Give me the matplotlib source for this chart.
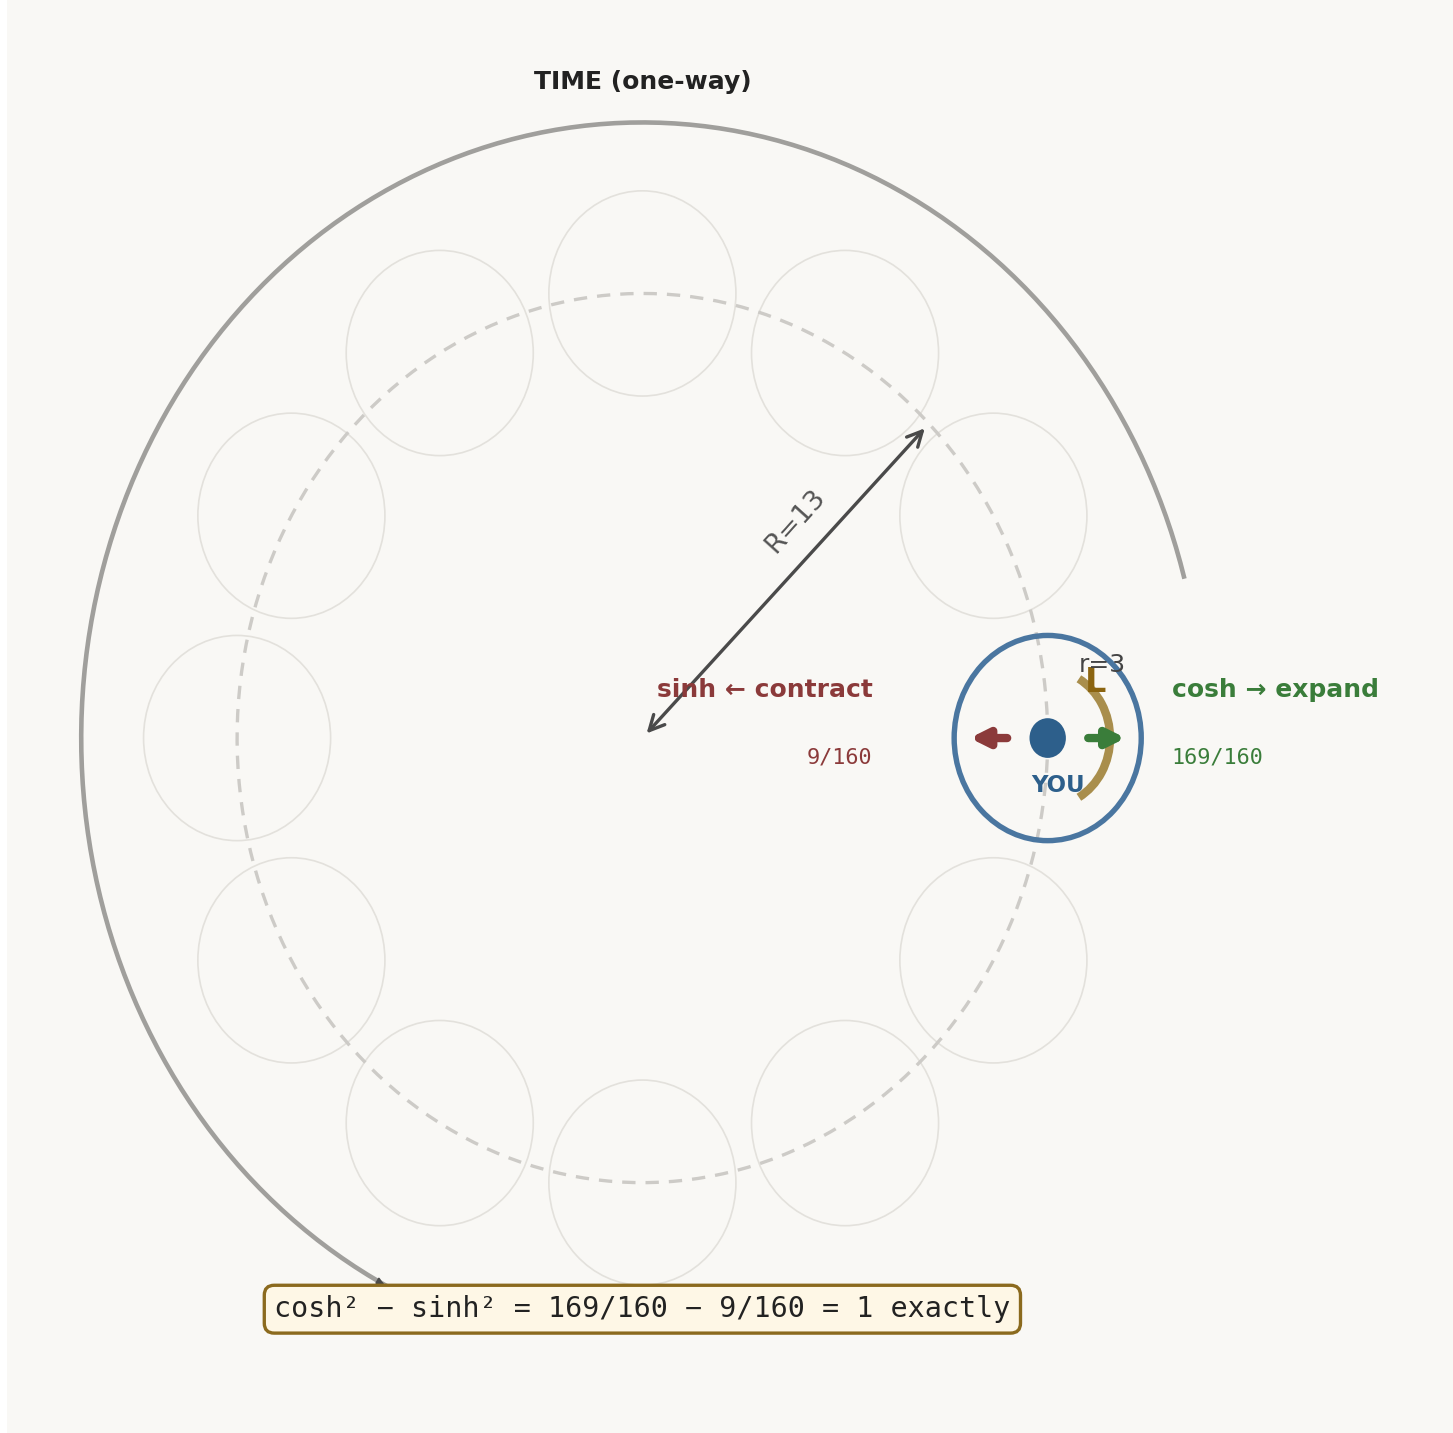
import numpy as np
import matplotlib
matplotlib.use("Agg")
import matplotlib.pyplot as plt
from matplotlib.patches import Circle, Arc, FancyArrowPatch

# geometry of the torus picture
R_big = 13          # major radius
r_small = 3         # tube radius
n_tubes = 12
tube_angles = np.arange(n_tubes) * 360 / n_tubes
time_radius = 18
time_arc = [15, 243]     # degrees, start/end of the one-way time arc

# the two parts of the identity
cosh_sq = "169/160"
sinh_sq = "9/160"
labels = {"sinh": "sinh ← contract", "cosh": "cosh → expand"}
formula = "cosh² − sinh² = 169/160 − 9/160 = 1 exactly"

BG = "#F9F8F5"
W, H, DPI = 1453, 1433, 150
fig = plt.figure(figsize=(W / DPI, H / DPI), dpi=DPI, facecolor="white")
ax = fig.add_axes([7 / W, 0, 1 - 7 / W, 1])
ax.set_facecolor(BG)
ax.set_xlim(-20.38, 26.0)
ax.set_ylim(-20.32, 21.58)
ax.axis("off")
ax.add_patch(plt.Rectangle((0, 0), 1, 1, transform=ax.transAxes, color=BG, zorder=0))

# faint tube cross sections
for a in tube_angles[1:]:
    cx, cy = R_big * np.cos(np.radians(a)), R_big * np.sin(np.radians(a))
    ax.add_patch(Circle((cx, cy), r_small, fill=False, ec="#E3E1DC", lw=0.8, zorder=1))

# dashed core circle
t = np.linspace(0, 2 * np.pi, 400)
ax.plot(R_big * np.cos(t), R_big * np.sin(t), ls=(0, (4, 3)), color="#CDCBC7", lw=1.6, zorder=2)

# one-way time arc
ta = np.radians(np.linspace(time_arc[0], time_arc[1], 300))
ax.plot(time_radius * np.cos(ta), time_radius * np.sin(ta), color="#A09F9C", lw=2.2,
        solid_capstyle="butt", zorder=2)
a0, a1 = np.radians(time_arc[1] - 1.0), np.radians(time_arc[1])
ax.annotate("", xy=(time_radius * np.cos(a1), time_radius * np.sin(a1)),
            xytext=(time_radius * np.cos(a0), time_radius * np.sin(a0)),
            arrowprops=dict(arrowstyle="-|>", color="#4A4A4A", lw=1, mutation_scale=6), zorder=2)
ax.text(0, 19.18, "TIME (one-way)", ha="center", va="center", fontsize=12,
        fontweight="bold", color="#222222")

# R arrow
ang = np.radians(45)
ax.annotate("", xy=(R_big * np.cos(ang), R_big * np.sin(ang)), xytext=(0, 0),
            arrowprops=dict(arrowstyle="<->", color="#4A4A4A", lw=1.6,
                            mutation_scale=18, shrinkA=3, shrinkB=3), zorder=4)
ax.text(4.9, 6.35, f"R={R_big}", rotation=48, ha="center", va="center",
        fontsize=13, color="#555555", rotation_mode="anchor")

# YOU tube
ax.add_patch(Circle((R_big, 0), r_small, fill=False, ec="#4A76A0", lw=2.6, zorder=5))
ax.add_patch(Circle((R_big, 0), 0.55, color="#2D5F8B", zorder=6))
ax.text(R_big + 0.33, -1.4, "YOU", ha="center", va="center", fontsize=11,
        fontweight="bold", color="#2D5F8B", zorder=7)

# gold rotation arc around the tube
ax.add_patch(Arc((R_big, 0), 4, 4, theta1=-60, theta2=60, color="#A0833A",
                 lw=4, alpha=0.9, zorder=5))
ax.text(14.52, 1.62, "L", ha="center", va="center", fontsize=16, fontweight="heavy",
        color="#8B6410", zorder=7)
ax.text(14.75, 2.15, f"r={r_small}", ha="center", va="center", fontsize=12,
        color="#444444", zorder=7)

# contract / expand arrows
ax.add_patch(FancyArrowPatch((R_big - 1.3, 0), (R_big - 2.5, 0), arrowstyle="-|>",
                             mutation_scale=17, lw=4, color="#8B3A3A", zorder=6,
                             shrinkA=0, shrinkB=0, capstyle="round"))
ax.add_patch(FancyArrowPatch((R_big + 1.3, 0), (R_big + 2.5, 0), arrowstyle="-|>",
                             mutation_scale=17, lw=4, color="#3A7D3A", zorder=6,
                             shrinkA=0, shrinkB=0, capstyle="round"))

ax.text(7.4, 1.4, labels["sinh"], ha="right", va="center", fontsize=12,
        fontweight="bold", color="#8B3A3A", zorder=7)
ax.text(7.38, -0.58, sinh_sq, ha="right", va="center", fontsize=10.5,
        family="DejaVu Sans Mono", color="#8B3A3A")
ax.text(16.98, 1.4, labels["cosh"], ha="left", va="center", fontsize=12,
        fontweight="bold", color="#3A7D3A")
ax.text(16.98, -0.58, cosh_sq, ha="left", va="center", fontsize=10.5,
        family="DejaVu Sans Mono", color="#3A7D3A")

# identity box
ax.text(0, -16.7, formula, ha="center", va="center", fontsize=13.6,
        family="DejaVu Sans Mono", color="#222222", zorder=8,
        bbox=dict(boxstyle="round,pad=0.35", fc="#FEF7E6", ec="#8B6A1E", lw=1.6))

fig.savefig("out.png", dpi=DPI, facecolor="white")
